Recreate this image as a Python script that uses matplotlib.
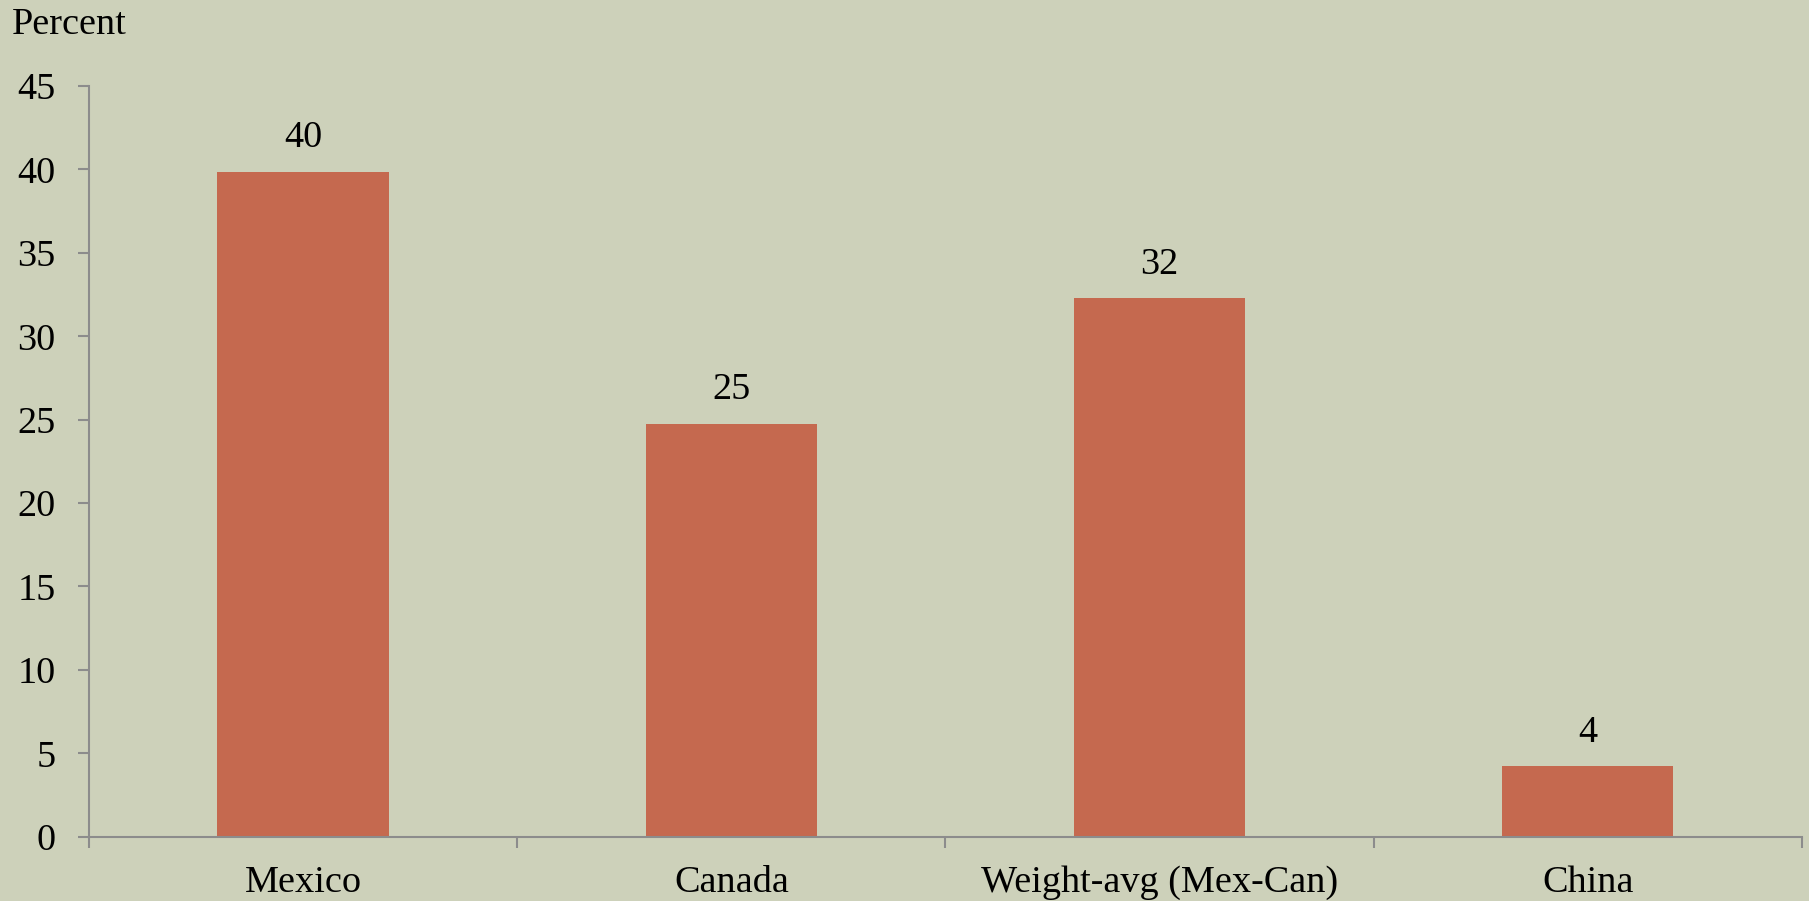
import matplotlib.pyplot as plt
import numpy as np

categories = ['Mexico', 'Canada', 'Weight-avg (Mex-Can)', 'China']
values = [39.86, 24.73, 32.27, 4.22]
labels = ['40', '25', '32', '4']

bg = '#CDD1BA'
bar_color = '#C5694F'
axis_gray = '#8C8C8C'
fs = 27.5

plt.rcParams['font.family'] = ['Liberation Serif', 'DejaVu Serif']

fig = plt.figure(figsize=(18.09, 9.01), dpi=100, facecolor=bg)
ax = fig.add_axes([0.0492, 0.0714, 0.9469, 0.8331], facecolor=bg)

x = np.arange(len(categories))
ax.bar(x, values, width=0.4, color=bar_color, zorder=2)

for xi, v, lab in zip(x, values, labels):
    ax.annotate(lab, (xi, v), xytext=(0, 12), textcoords='offset points',
                ha='center', va='bottom', fontsize=fs)

ax.set_xlim(-0.5, len(categories) - 0.5)
ax.set_ylim(0, 45)
ax.set_yticks(range(0, 46, 5))
ax.set_xticks(np.arange(-0.5, len(categories), 1.0))
ax.set_xticklabels([])
ax.set_xticks(x, minor=True)
ax.set_xticklabels(categories, minor=True)

ax.tick_params(axis='y', which='major', length=8, width=1.5, color=axis_gray,
               labelsize=fs, pad=16)
ax.tick_params(axis='x', which='major', length=8, width=1.5, color=axis_gray)
ax.tick_params(axis='x', which='minor', length=0, labelsize=fs, pad=21)

for s in ['top', 'right']:
    ax.spines[s].set_visible(False)
for s in ['left', 'bottom']:
    ax.spines[s].set_color(axis_gray)
    ax.spines[s].set_linewidth(1.5)

fig.text(0.0066, 0.962, 'Percent', fontsize=fs, ha='left', va='baseline')

fig.savefig('out.png', dpi=100, facecolor=bg)
